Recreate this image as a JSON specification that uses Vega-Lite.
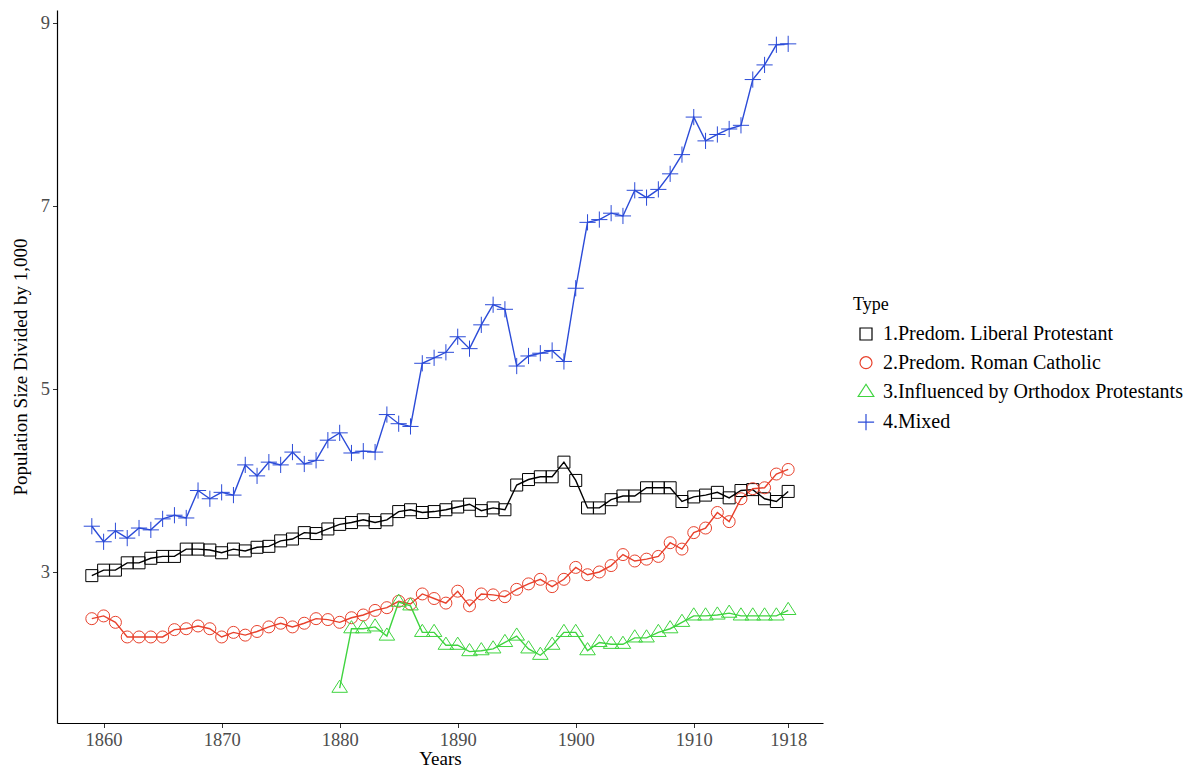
{
  "$schema": "https://vega.github.io/schema/vega-lite/v6.json",
  "width": 766,
  "height": 713,
  "autosize": "none",
  "padding": {"left": 57, "top": 10, "right": 372, "bottom": 46},
  "background": "white",
  "config": {
    "view": {"stroke": null},
    "font": "Liberation Serif"
  },
  "datasets": {
    "pop": [
      {"Year":1859,"Type":"1.Predom. Liberal Protestant","Value":2.96},
      {"Year":1860,"Type":"1.Predom. Liberal Protestant","Value":3.02},
      {"Year":1861,"Type":"1.Predom. Liberal Protestant","Value":3.02},
      {"Year":1862,"Type":"1.Predom. Liberal Protestant","Value":3.10},
      {"Year":1863,"Type":"1.Predom. Liberal Protestant","Value":3.10},
      {"Year":1864,"Type":"1.Predom. Liberal Protestant","Value":3.15},
      {"Year":1865,"Type":"1.Predom. Liberal Protestant","Value":3.17},
      {"Year":1866,"Type":"1.Predom. Liberal Protestant","Value":3.17},
      {"Year":1867,"Type":"1.Predom. Liberal Protestant","Value":3.25},
      {"Year":1868,"Type":"1.Predom. Liberal Protestant","Value":3.25},
      {"Year":1869,"Type":"1.Predom. Liberal Protestant","Value":3.24},
      {"Year":1870,"Type":"1.Predom. Liberal Protestant","Value":3.21},
      {"Year":1871,"Type":"1.Predom. Liberal Protestant","Value":3.25},
      {"Year":1872,"Type":"1.Predom. Liberal Protestant","Value":3.23},
      {"Year":1873,"Type":"1.Predom. Liberal Protestant","Value":3.27},
      {"Year":1874,"Type":"1.Predom. Liberal Protestant","Value":3.28},
      {"Year":1875,"Type":"1.Predom. Liberal Protestant","Value":3.34},
      {"Year":1876,"Type":"1.Predom. Liberal Protestant","Value":3.36},
      {"Year":1877,"Type":"1.Predom. Liberal Protestant","Value":3.43},
      {"Year":1878,"Type":"1.Predom. Liberal Protestant","Value":3.42},
      {"Year":1879,"Type":"1.Predom. Liberal Protestant","Value":3.47},
      {"Year":1880,"Type":"1.Predom. Liberal Protestant","Value":3.52},
      {"Year":1881,"Type":"1.Predom. Liberal Protestant","Value":3.54},
      {"Year":1882,"Type":"1.Predom. Liberal Protestant","Value":3.57},
      {"Year":1883,"Type":"1.Predom. Liberal Protestant","Value":3.54},
      {"Year":1884,"Type":"1.Predom. Liberal Protestant","Value":3.57},
      {"Year":1885,"Type":"1.Predom. Liberal Protestant","Value":3.66},
      {"Year":1886,"Type":"1.Predom. Liberal Protestant","Value":3.68},
      {"Year":1887,"Type":"1.Predom. Liberal Protestant","Value":3.65},
      {"Year":1888,"Type":"1.Predom. Liberal Protestant","Value":3.66},
      {"Year":1889,"Type":"1.Predom. Liberal Protestant","Value":3.68},
      {"Year":1890,"Type":"1.Predom. Liberal Protestant","Value":3.71},
      {"Year":1891,"Type":"1.Predom. Liberal Protestant","Value":3.74},
      {"Year":1892,"Type":"1.Predom. Liberal Protestant","Value":3.67},
      {"Year":1893,"Type":"1.Predom. Liberal Protestant","Value":3.70},
      {"Year":1894,"Type":"1.Predom. Liberal Protestant","Value":3.68},
      {"Year":1895,"Type":"1.Predom. Liberal Protestant","Value":3.95},
      {"Year":1896,"Type":"1.Predom. Liberal Protestant","Value":4.01},
      {"Year":1897,"Type":"1.Predom. Liberal Protestant","Value":4.04},
      {"Year":1898,"Type":"1.Predom. Liberal Protestant","Value":4.04},
      {"Year":1899,"Type":"1.Predom. Liberal Protestant","Value":4.20},
      {"Year":1900,"Type":"1.Predom. Liberal Protestant","Value":4.00},
      {"Year":1901,"Type":"1.Predom. Liberal Protestant","Value":3.70},
      {"Year":1902,"Type":"1.Predom. Liberal Protestant","Value":3.70},
      {"Year":1903,"Type":"1.Predom. Liberal Protestant","Value":3.79},
      {"Year":1904,"Type":"1.Predom. Liberal Protestant","Value":3.83},
      {"Year":1905,"Type":"1.Predom. Liberal Protestant","Value":3.83},
      {"Year":1906,"Type":"1.Predom. Liberal Protestant","Value":3.92},
      {"Year":1907,"Type":"1.Predom. Liberal Protestant","Value":3.92},
      {"Year":1908,"Type":"1.Predom. Liberal Protestant","Value":3.92},
      {"Year":1909,"Type":"1.Predom. Liberal Protestant","Value":3.77},
      {"Year":1910,"Type":"1.Predom. Liberal Protestant","Value":3.82},
      {"Year":1911,"Type":"1.Predom. Liberal Protestant","Value":3.84},
      {"Year":1912,"Type":"1.Predom. Liberal Protestant","Value":3.87},
      {"Year":1913,"Type":"1.Predom. Liberal Protestant","Value":3.81},
      {"Year":1914,"Type":"1.Predom. Liberal Protestant","Value":3.89},
      {"Year":1915,"Type":"1.Predom. Liberal Protestant","Value":3.90},
      {"Year":1916,"Type":"1.Predom. Liberal Protestant","Value":3.80},
      {"Year":1917,"Type":"1.Predom. Liberal Protestant","Value":3.77},
      {"Year":1918,"Type":"1.Predom. Liberal Protestant","Value":3.88},

      {"Year":1859,"Type":"2.Predom. Roman Catholic","Value":2.49},
      {"Year":1860,"Type":"2.Predom. Roman Catholic","Value":2.52},
      {"Year":1861,"Type":"2.Predom. Roman Catholic","Value":2.45},
      {"Year":1862,"Type":"2.Predom. Roman Catholic","Value":2.29},
      {"Year":1863,"Type":"2.Predom. Roman Catholic","Value":2.29},
      {"Year":1864,"Type":"2.Predom. Roman Catholic","Value":2.29},
      {"Year":1865,"Type":"2.Predom. Roman Catholic","Value":2.29},
      {"Year":1866,"Type":"2.Predom. Roman Catholic","Value":2.37},
      {"Year":1867,"Type":"2.Predom. Roman Catholic","Value":2.38},
      {"Year":1868,"Type":"2.Predom. Roman Catholic","Value":2.41},
      {"Year":1869,"Type":"2.Predom. Roman Catholic","Value":2.38},
      {"Year":1870,"Type":"2.Predom. Roman Catholic","Value":2.29},
      {"Year":1871,"Type":"2.Predom. Roman Catholic","Value":2.34},
      {"Year":1872,"Type":"2.Predom. Roman Catholic","Value":2.31},
      {"Year":1873,"Type":"2.Predom. Roman Catholic","Value":2.35},
      {"Year":1874,"Type":"2.Predom. Roman Catholic","Value":2.40},
      {"Year":1875,"Type":"2.Predom. Roman Catholic","Value":2.44},
      {"Year":1876,"Type":"2.Predom. Roman Catholic","Value":2.40},
      {"Year":1877,"Type":"2.Predom. Roman Catholic","Value":2.44},
      {"Year":1878,"Type":"2.Predom. Roman Catholic","Value":2.49},
      {"Year":1879,"Type":"2.Predom. Roman Catholic","Value":2.48},
      {"Year":1880,"Type":"2.Predom. Roman Catholic","Value":2.45},
      {"Year":1881,"Type":"2.Predom. Roman Catholic","Value":2.50},
      {"Year":1882,"Type":"2.Predom. Roman Catholic","Value":2.53},
      {"Year":1883,"Type":"2.Predom. Roman Catholic","Value":2.58},
      {"Year":1884,"Type":"2.Predom. Roman Catholic","Value":2.61},
      {"Year":1885,"Type":"2.Predom. Roman Catholic","Value":2.68},
      {"Year":1886,"Type":"2.Predom. Roman Catholic","Value":2.65},
      {"Year":1887,"Type":"2.Predom. Roman Catholic","Value":2.76},
      {"Year":1888,"Type":"2.Predom. Roman Catholic","Value":2.71},
      {"Year":1889,"Type":"2.Predom. Roman Catholic","Value":2.66},
      {"Year":1890,"Type":"2.Predom. Roman Catholic","Value":2.79},
      {"Year":1891,"Type":"2.Predom. Roman Catholic","Value":2.63},
      {"Year":1892,"Type":"2.Predom. Roman Catholic","Value":2.76},
      {"Year":1893,"Type":"2.Predom. Roman Catholic","Value":2.75},
      {"Year":1894,"Type":"2.Predom. Roman Catholic","Value":2.73},
      {"Year":1895,"Type":"2.Predom. Roman Catholic","Value":2.81},
      {"Year":1896,"Type":"2.Predom. Roman Catholic","Value":2.87},
      {"Year":1897,"Type":"2.Predom. Roman Catholic","Value":2.92},
      {"Year":1898,"Type":"2.Predom. Roman Catholic","Value":2.84},
      {"Year":1899,"Type":"2.Predom. Roman Catholic","Value":2.92},
      {"Year":1900,"Type":"2.Predom. Roman Catholic","Value":3.05},
      {"Year":1901,"Type":"2.Predom. Roman Catholic","Value":2.97},
      {"Year":1902,"Type":"2.Predom. Roman Catholic","Value":3.00},
      {"Year":1903,"Type":"2.Predom. Roman Catholic","Value":3.07},
      {"Year":1904,"Type":"2.Predom. Roman Catholic","Value":3.19},
      {"Year":1905,"Type":"2.Predom. Roman Catholic","Value":3.12},
      {"Year":1906,"Type":"2.Predom. Roman Catholic","Value":3.14},
      {"Year":1907,"Type":"2.Predom. Roman Catholic","Value":3.17},
      {"Year":1908,"Type":"2.Predom. Roman Catholic","Value":3.32},
      {"Year":1909,"Type":"2.Predom. Roman Catholic","Value":3.25},
      {"Year":1910,"Type":"2.Predom. Roman Catholic","Value":3.43},
      {"Year":1911,"Type":"2.Predom. Roman Catholic","Value":3.48},
      {"Year":1912,"Type":"2.Predom. Roman Catholic","Value":3.65},
      {"Year":1913,"Type":"2.Predom. Roman Catholic","Value":3.55},
      {"Year":1914,"Type":"2.Predom. Roman Catholic","Value":3.80},
      {"Year":1915,"Type":"2.Predom. Roman Catholic","Value":3.91},
      {"Year":1916,"Type":"2.Predom. Roman Catholic","Value":3.92},
      {"Year":1917,"Type":"2.Predom. Roman Catholic","Value":4.07},
      {"Year":1918,"Type":"2.Predom. Roman Catholic","Value":4.12},

      {"Year":1880,"Type":"3.Influenced by Orthodox Protestants","Value":1.73},
      {"Year":1881,"Type":"3.Influenced by Orthodox Protestants","Value":2.38},
      {"Year":1882,"Type":"3.Influenced by Orthodox Protestants","Value":2.38},
      {"Year":1883,"Type":"3.Influenced by Orthodox Protestants","Value":2.40},
      {"Year":1884,"Type":"3.Influenced by Orthodox Protestants","Value":2.30},
      {"Year":1885,"Type":"3.Influenced by Orthodox Protestants","Value":2.67},
      {"Year":1886,"Type":"3.Influenced by Orthodox Protestants","Value":2.63},
      {"Year":1887,"Type":"3.Influenced by Orthodox Protestants","Value":2.34},
      {"Year":1888,"Type":"3.Influenced by Orthodox Protestants","Value":2.34},
      {"Year":1889,"Type":"3.Influenced by Orthodox Protestants","Value":2.20},
      {"Year":1890,"Type":"3.Influenced by Orthodox Protestants","Value":2.20},
      {"Year":1891,"Type":"3.Influenced by Orthodox Protestants","Value":2.13},
      {"Year":1892,"Type":"3.Influenced by Orthodox Protestants","Value":2.14},
      {"Year":1893,"Type":"3.Influenced by Orthodox Protestants","Value":2.16},
      {"Year":1894,"Type":"3.Influenced by Orthodox Protestants","Value":2.23},
      {"Year":1895,"Type":"3.Influenced by Orthodox Protestants","Value":2.30},
      {"Year":1896,"Type":"3.Influenced by Orthodox Protestants","Value":2.16},
      {"Year":1897,"Type":"3.Influenced by Orthodox Protestants","Value":2.09},
      {"Year":1898,"Type":"3.Influenced by Orthodox Protestants","Value":2.20},
      {"Year":1899,"Type":"3.Influenced by Orthodox Protestants","Value":2.34},
      {"Year":1900,"Type":"3.Influenced by Orthodox Protestants","Value":2.34},
      {"Year":1901,"Type":"3.Influenced by Orthodox Protestants","Value":2.14},
      {"Year":1902,"Type":"3.Influenced by Orthodox Protestants","Value":2.23},
      {"Year":1903,"Type":"3.Influenced by Orthodox Protestants","Value":2.21},
      {"Year":1904,"Type":"3.Influenced by Orthodox Protestants","Value":2.21},
      {"Year":1905,"Type":"3.Influenced by Orthodox Protestants","Value":2.28},
      {"Year":1906,"Type":"3.Influenced by Orthodox Protestants","Value":2.28},
      {"Year":1907,"Type":"3.Influenced by Orthodox Protestants","Value":2.34},
      {"Year":1908,"Type":"3.Influenced by Orthodox Protestants","Value":2.38},
      {"Year":1909,"Type":"3.Influenced by Orthodox Protestants","Value":2.45},
      {"Year":1910,"Type":"3.Influenced by Orthodox Protestants","Value":2.52},
      {"Year":1911,"Type":"3.Influenced by Orthodox Protestants","Value":2.52},
      {"Year":1912,"Type":"3.Influenced by Orthodox Protestants","Value":2.53},
      {"Year":1913,"Type":"3.Influenced by Orthodox Protestants","Value":2.55},
      {"Year":1914,"Type":"3.Influenced by Orthodox Protestants","Value":2.52},
      {"Year":1915,"Type":"3.Influenced by Orthodox Protestants","Value":2.52},
      {"Year":1916,"Type":"3.Influenced by Orthodox Protestants","Value":2.52},
      {"Year":1917,"Type":"3.Influenced by Orthodox Protestants","Value":2.52},
      {"Year":1918,"Type":"3.Influenced by Orthodox Protestants","Value":2.58},

      {"Year":1859,"Type":"4.Mixed","Value":3.50},
      {"Year":1860,"Type":"4.Mixed","Value":3.33},
      {"Year":1861,"Type":"4.Mixed","Value":3.45},
      {"Year":1862,"Type":"4.Mixed","Value":3.37},
      {"Year":1863,"Type":"4.Mixed","Value":3.48},
      {"Year":1864,"Type":"4.Mixed","Value":3.46},
      {"Year":1865,"Type":"4.Mixed","Value":3.58},
      {"Year":1866,"Type":"4.Mixed","Value":3.62},
      {"Year":1867,"Type":"4.Mixed","Value":3.59},
      {"Year":1868,"Type":"4.Mixed","Value":3.89},
      {"Year":1869,"Type":"4.Mixed","Value":3.80},
      {"Year":1870,"Type":"4.Mixed","Value":3.87},
      {"Year":1871,"Type":"4.Mixed","Value":3.84},
      {"Year":1872,"Type":"4.Mixed","Value":4.17},
      {"Year":1873,"Type":"4.Mixed","Value":4.05},
      {"Year":1874,"Type":"4.Mixed","Value":4.20},
      {"Year":1875,"Type":"4.Mixed","Value":4.17},
      {"Year":1876,"Type":"4.Mixed","Value":4.31},
      {"Year":1877,"Type":"4.Mixed","Value":4.18},
      {"Year":1878,"Type":"4.Mixed","Value":4.22},
      {"Year":1879,"Type":"4.Mixed","Value":4.44},
      {"Year":1880,"Type":"4.Mixed","Value":4.52},
      {"Year":1881,"Type":"4.Mixed","Value":4.30},
      {"Year":1882,"Type":"4.Mixed","Value":4.32},
      {"Year":1883,"Type":"4.Mixed","Value":4.31},
      {"Year":1884,"Type":"4.Mixed","Value":4.72},
      {"Year":1885,"Type":"4.Mixed","Value":4.62},
      {"Year":1886,"Type":"4.Mixed","Value":4.59},
      {"Year":1887,"Type":"4.Mixed","Value":5.28},
      {"Year":1888,"Type":"4.Mixed","Value":5.34},
      {"Year":1889,"Type":"4.Mixed","Value":5.40},
      {"Year":1890,"Type":"4.Mixed","Value":5.57},
      {"Year":1891,"Type":"4.Mixed","Value":5.44},
      {"Year":1892,"Type":"4.Mixed","Value":5.70},
      {"Year":1893,"Type":"4.Mixed","Value":5.92},
      {"Year":1894,"Type":"4.Mixed","Value":5.87},
      {"Year":1895,"Type":"4.Mixed","Value":5.25},
      {"Year":1896,"Type":"4.Mixed","Value":5.36},
      {"Year":1897,"Type":"4.Mixed","Value":5.39},
      {"Year":1898,"Type":"4.Mixed","Value":5.42},
      {"Year":1899,"Type":"4.Mixed","Value":5.30},
      {"Year":1900,"Type":"4.Mixed","Value":6.10},
      {"Year":1901,"Type":"4.Mixed","Value":6.82},
      {"Year":1902,"Type":"4.Mixed","Value":6.85},
      {"Year":1903,"Type":"4.Mixed","Value":6.92},
      {"Year":1904,"Type":"4.Mixed","Value":6.89},
      {"Year":1905,"Type":"4.Mixed","Value":7.17},
      {"Year":1906,"Type":"4.Mixed","Value":7.09},
      {"Year":1907,"Type":"4.Mixed","Value":7.18},
      {"Year":1908,"Type":"4.Mixed","Value":7.35},
      {"Year":1909,"Type":"4.Mixed","Value":7.56},
      {"Year":1910,"Type":"4.Mixed","Value":7.97},
      {"Year":1911,"Type":"4.Mixed","Value":7.71},
      {"Year":1912,"Type":"4.Mixed","Value":7.78},
      {"Year":1913,"Type":"4.Mixed","Value":7.84},
      {"Year":1914,"Type":"4.Mixed","Value":7.88},
      {"Year":1915,"Type":"4.Mixed","Value":8.38},
      {"Year":1916,"Type":"4.Mixed","Value":8.54},
      {"Year":1917,"Type":"4.Mixed","Value":8.76},
      {"Year":1918,"Type":"4.Mixed","Value":8.77}
    ]
  },
  "data": {"name": "pop"},
  "encoding": {
    "x": {
      "field": "Year", "type": "quantitative",
      "scale": {"domain": [1856.05, 1920.95], "nice": false, "zero": false},
      "axis": {
        "title": "Years", "values": [1860, 1870, 1880, 1890, 1900, 1910, 1918], "format": "d",
        "grid": false, "domainColor": "#000000", "domainWidth": 1.2,
        "tickColor": "#333333", "tickSize": 4.5, "tickWidth": 1,
        "labelFont": "Liberation Serif", "labelFontSize": 18.5, "labelColor": "#4d4d4d", "labelPadding": 3,
        "titleFont": "Liberation Serif", "titleFontSize": 19, "titleFontWeight": "normal", "titleColor": "#000000", "titlePadding": 0
      }
    },
    "y": {
      "field": "Value", "type": "quantitative",
      "scale": {"domain": [1.35, 9.14], "nice": false, "zero": false},
      "axis": {
        "title": "Population Size Divided by 1,000", "values": [3, 5, 7, 9], "format": "d",
        "grid": false, "domainColor": "#000000", "domainWidth": 1.2,
        "tickColor": "#333333", "tickSize": 4.5, "tickWidth": 1,
        "labelFont": "Liberation Serif", "labelFontSize": 18.5, "labelColor": "#4d4d4d", "labelPadding": 3,
        "titleFont": "Liberation Serif", "titleFontSize": 19, "titleFontWeight": "normal", "titleColor": "#000000", "titlePadding": 10
      }
    },
    "color": {
      "field": "Type", "type": "nominal",
      "scale": {
        "domain": ["1.Predom. Liberal Protestant", "2.Predom. Roman Catholic", "3.Influenced by Orthodox Protestants", "4.Mixed"],
        "range": ["#000000", "#e8412c", "#3fd43f", "#2b4bd8"]
      },
      "legend": {
        "title": "Type",
        "orient": "none", "legendX": 796, "legendY": 286,
        "titleFont": "Liberation Serif", "titleFontSize": 18, "titleFontWeight": "normal", "titleColor": "#000000", "titlePadding": 10,
        "labelFont": "Liberation Serif", "labelFontSize": 20, "labelColor": "#000000", "labelOffset": 7, "labelLimit": 500,
        "symbolSize": 144, "symbolStrokeWidth": 1.2, "symbolOffset": 3, "rowPadding": 8.7
      }
    }
  },
  "layer": [
    {
      "mark": {"type": "line", "strokeWidth": 1.4}
    },
    {
      "mark": {"type": "point", "filled": false, "size": 144, "strokeWidth": 1, "opacity": 1},
      "encoding": {
        "shape": {
          "field": "Type", "type": "nominal",
          "scale": {
            "domain": ["1.Predom. Liberal Protestant", "2.Predom. Roman Catholic", "3.Influenced by Orthodox Protestants", "4.Mixed"],
            "range": ["M-1,-1H1V1H-1Z", "circle", "M0,-1.35L1.3,0.68L-1.3,0.68Z", "M-1.35,0H1.35M0,-1.35V1.35"]
          },
          "legend": {
            "title": "Type",
            "orient": "none", "legendX": 796, "legendY": 286,
            "titleFont": "Liberation Serif", "titleFontSize": 18, "titleFontWeight": "normal", "titleColor": "#000000", "titlePadding": 10,
            "labelFont": "Liberation Serif", "labelFontSize": 20, "labelColor": "#000000", "labelOffset": 7, "labelLimit": 500,
            "symbolSize": 144, "symbolStrokeWidth": 1.2, "symbolOffset": 3, "rowPadding": 8.7
          }
        }
      }
    }
  ]
}
